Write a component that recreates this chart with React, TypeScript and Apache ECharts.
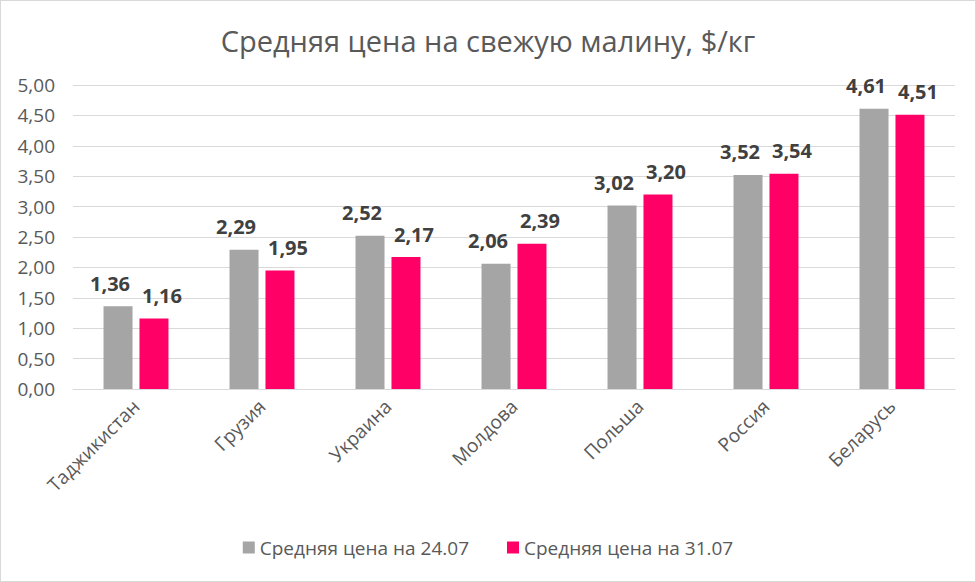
import React, { useEffect, useRef } from "react";
import * as echarts from "echarts";

const categories = ["Таджикистан", "Грузия", "Украина", "Молдова", "Польша", "Россия", "Беларусь"];
const series1Name = "Средняя цена на 24.07";
const series2Name = "Средняя цена на 31.07";
const values1 = [1.36, 2.29, 2.52, 2.06, 3.02, 3.52, 4.61];
const values2 = [1.16, 1.95, 2.17, 2.39, 3.2, 3.54, 4.51];
const titleText = "Средняя цена на свежую малину, $/кг";

const fmt = (v: number) => v.toFixed(2).replace(".", ",");
const FONT = "'Open Sans', 'Noto Sans', sans-serif";

export default function App() {
  const ref = useRef<HTMLDivElement>(null);
  useEffect(() => {
    if (!ref.current) return;
    const chart = echarts.init(ref.current, null, { renderer: "svg" });
    const label = (dx: number) => ({
      show: true,
      position: "top" as const,
      distance: 13,
      offset: [dx, 0],
      formatter: (p: any) => fmt(p.value),
      fontFamily: FONT,
      fontSize: 20,
      fontWeight: "bold" as const,
      color: "#404040",
    });
    chart.setOption({
      animation: false,
      backgroundColor: "#ffffff",
      textStyle: { fontFamily: FONT },
      title: {
        text: titleText,
        left: "center",
        top: 20,
        textStyle: { fontFamily: FONT, fontSize: 29, fontWeight: "normal", color: "#595959" },
      },
      legend: {
        bottom: 19,
        left: "center",
        itemWidth: 12,
        itemHeight: 12,
        itemGap: 38,
        icon: "rect",
        textStyle: { fontFamily: FONT, fontSize: 19, color: "#595959" },
        data: [series1Name, series2Name],
      },
      grid: { left: 72, right: 20, top: 84, bottom: 192, containLabel: false },
      xAxis: {
        type: "category",
        data: categories,
        axisLine: { show: true, lineStyle: { color: "#d9d9d9" } },
        axisTick: { show: false },
        axisLabel: {
          rotate: 45,
          margin: 14,
          fontFamily: FONT,
          fontSize: 19,
          color: "#595959",
          interval: 0,
        },
      },
      yAxis: {
        type: "value",
        min: 0,
        max: 5,
        interval: 0.5,
        axisLine: { show: false },
        axisTick: { show: false },
        splitLine: { lineStyle: { color: "#d9d9d9" } },
        axisLabel: {
          formatter: (v: number) => fmt(v),
          fontFamily: FONT,
          fontSize: 19,
          color: "#595959",
          margin: 18,
        },
      },
      series: [
        {
          name: series1Name,
          type: "bar",
          data: values1,
          barWidth: 29,
          barGap: "24%",
          itemStyle: { color: "#A5A5A5" },
          label: label(-8),
        },
        {
          name: series2Name,
          type: "bar",
          data: values2,
          barWidth: 29,
          itemStyle: { color: "#FF0066" },
          label: label(8),
        },
      ],
    });
    return () => chart.dispose();
  }, []);
  return (
    <div
      ref={ref}
      style={{
        width: 974,
        height: 580,
        border: "1px solid #d9d9d9",
        position: "absolute",
        left: 0,
        top: 0,
      }}
    />
  );
}
